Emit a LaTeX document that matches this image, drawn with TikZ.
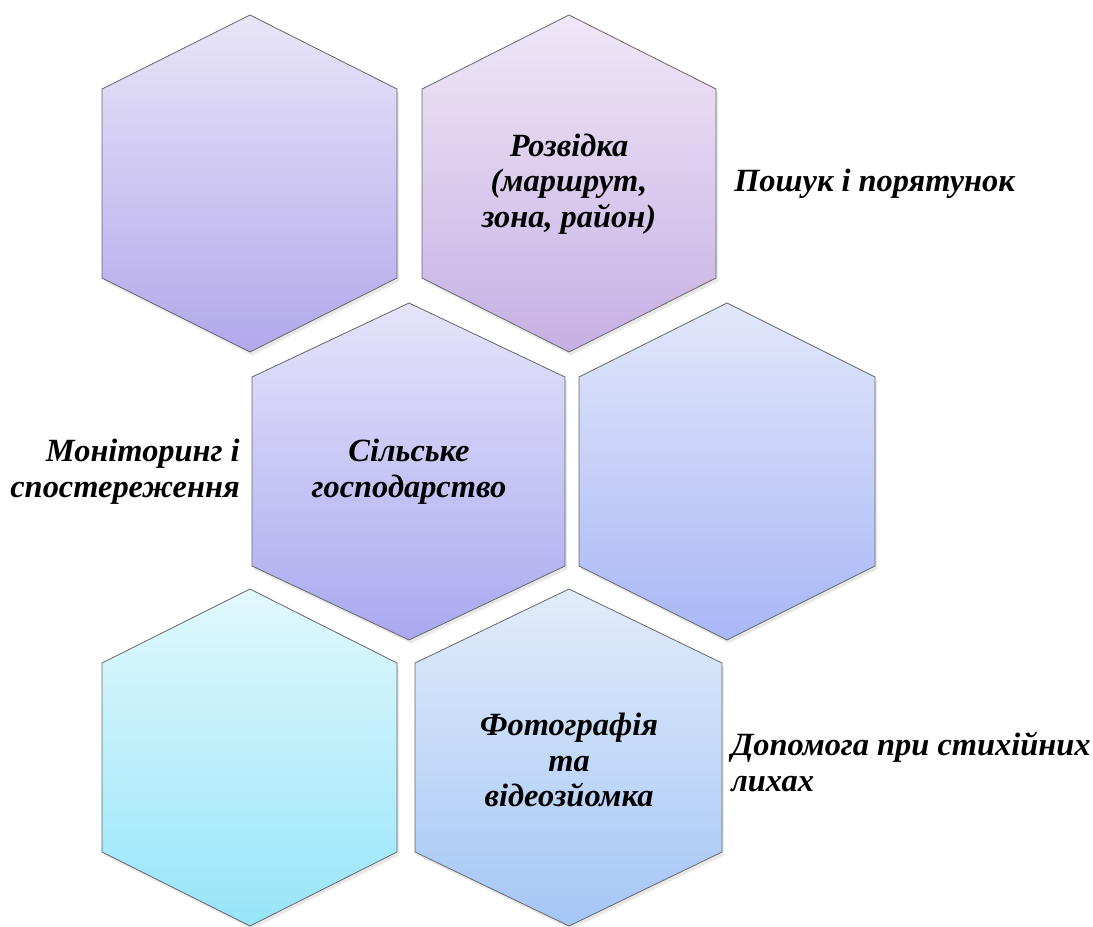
\documentclass[tikz,border=0pt]{standalone}
\usepackage{fontspec}
\setmainfont{Liberation Serif}
\usetikzlibrary{shadows}
\usetikzlibrary{positioning}

\definecolor{hexAtop}{HTML}{E8E5F8}
\definecolor{hexAbot}{HTML}{B2A8EC}
\definecolor{hexBtop}{HTML}{EFE7F7}
\definecolor{hexBbot}{HTML}{C6B0E4}
\definecolor{hexCtop}{HTML}{E5E4FA}
\definecolor{hexCbot}{HTML}{ABA8F0}
\definecolor{hexDtop}{HTML}{E2E7FA}
\definecolor{hexDbot}{HTML}{A8B7F6}
\definecolor{hexEtop}{HTML}{E2F8FD}
\definecolor{hexEbot}{HTML}{96E5F9}
\definecolor{hexFtop}{HTML}{E1ECFA}
\definecolor{hexFbot}{HTML}{A5C6F6}

\tikzstyle{hexcell} = [draw=black!60, line width=0.6pt,
                       drop shadow={shadow xshift=1.5pt, shadow yshift=-2.5pt,
                                    opacity=0.18}]
\tikzstyle{celltext} = [font=\bfseries\itshape\fontsize{24.3}{26.8}\selectfont,
                        align=center, inner sep=0pt]
\tikzstyle{sidetext} = [font=\bfseries\itshape\fontsize{24.3}{26.8}\selectfont,
                        inner sep=0pt]

% #1 centre x, #2 top y, #3 left x, #4 right x, #5 top colour, #6 bottom colour
\newcommand{\hexcell}[6]{%
  \draw[hexcell, top color=#5, bottom color=#6]
    (#1,#2) -- (#4,#2+74) -- (#4,#2+263) -- (#1,#2+337)
    -- (#3,#2+263) -- (#3,#2+74) -- cycle;}

\begin{document}
\begin{tikzpicture}[x=0.75pt, y=-0.75pt]
  \useasboundingbox (0,0) rectangle (1093,926);

  % hexagons
  \hexcell{250}{15}{102}{397}{hexAtop}{hexAbot}
  \hexcell{569}{15}{422}{716}{hexBtop}{hexBbot}
  \hexcell{409}{303}{252}{565}{hexCtop}{hexCbot}
  \hexcell{727}{303}{579}{875}{hexDtop}{hexDbot}
  \hexcell{250}{589}{102}{397}{hexEtop}{hexEbot}
  \hexcell{569}{589}{415}{722}{hexFtop}{hexFbot}

  % texts in cells
  \node [celltext] (recon) at (569,184) {Розвідка\\(маршрут,\\зона, район)};
  \node [celltext] (agri) at (409,472) {Сільське\\господарство};
  \node [celltext] (photo) at (569,760) {Фотографія\\та\\відеозйомка};

  % texts beside
  \node [sidetext, anchor=west] (search) at (734,184) {Пошук і порятунок};
  \node [sidetext, anchor=east, align=right] (monitor) at (240,472)
        {Моніторинг і\\спостереження};
  \node [sidetext, anchor=west, align=left] (disaster) at (731,762)
        {Допомога при стихійних\\лихах};
\end{tikzpicture}
\end{document}
